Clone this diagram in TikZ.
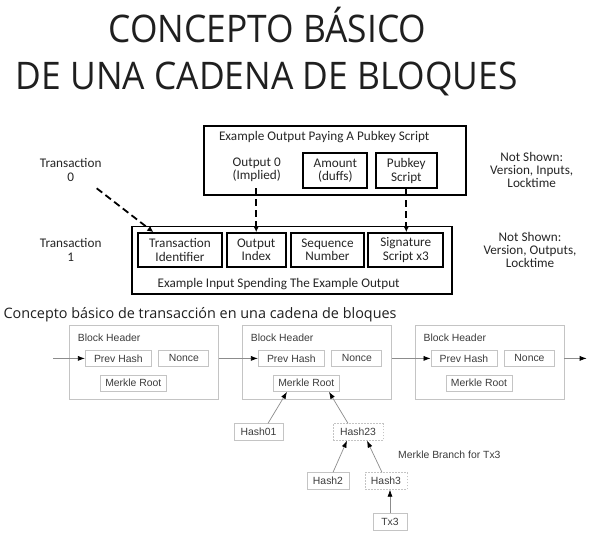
\documentclass[tikz,border=0pt]{standalone}
\usepackage{fontspec}
\setmainfont{Liberation Sans}
\newfontfamily\titlefont{Open Sans}
\newfontfamily\calfont{Carlito}
\usetikzlibrary{arrows.meta}
\definecolor{boxgray}{HTML}{C4C4C4}
\definecolor{txtgray}{HTML}{3C3C3C}
\begin{document}
\begin{tikzpicture}[x=1pt,y=-1pt,
  titletext/.style={inner sep=0, anchor=base, font=\titlefont\fontsize{38}{44}\selectfont, text=black!88},
  subtext/.style={inner sep=0, anchor=base west, font=\titlefont\fontsize{14.4}{16}\selectfont, text=black!88},
  topbox/.style={draw, line width=1.8pt, inner sep=0, align=center, font=\calfont\fontsize{13.2}{13.4}\selectfont, text=black!85},
  toptext/.style={inner sep=0, align=center, font=\calfont\fontsize{13.2}{13.4}\selectfont, text=black!85},
  toparrow/.style={line width=1.8pt, dash pattern=on 7pt off 4pt, -{Latex[length=6pt,width=6pt]}},
  blockbox/.style={draw=boxgray, line width=0.8pt, inner sep=0, minimum width=149, minimum height=74},
  smallbox/.style={draw=boxgray, line width=0.8pt, inner sep=0, minimum height=16.5, font=\fontsize{10.4}{12}\selectfont, text=txtgray},
  dotbox/.style={smallbox, dash pattern=on 1.5pt off 1.5pt},
  smalltext/.style={inner sep=0, font=\fontsize{10.4}{12}\selectfont, text=txtgray},
  chainarrow/.style={draw=black!45, line width=0.7pt, -{Latex[length=7pt,width=5pt,color=black]}}
]
\useasboundingbox (0,0) rectangle (600,549);
\fill[white] (0,0) rectangle (600,549);

% title
\node[titletext] (title1) at (267.5,42.7) {\scalebox{0.93}[1]{CONCEPTO BÁSICO}};
\node[titletext] (title2) at (266.7,89.3) {\scalebox{0.93}[1]{DE UNA CADENA DE BLOQUES}};

% top diagram: output
\node[topbox, minimum width=261.7, minimum height=69] (outbox) at (335.2,160.5) {};
\node[toptext] (outtitle) at (324.2,137) {Example Output Paying A Pubkey Script};
\node[toptext] (out0) at (256.7,170) {Output 0\\(Implied)};
\node[topbox, minimum width=64, minimum height=35] (amount) at (335.3,170.8) {Amount\\(duffs)};
\node[topbox, minimum width=60.7, minimum height=35] (pubkey) at (406.3,170.8) {Pubkey\\Script};
\node[toptext] (tx0) at (70.7,170) {Transaction\\0};
\node[toptext] (ns1) at (531.7,170) {Not Shown:\\Version, Inputs,\\Locktime};

% top diagram: input
\node[topbox, minimum width=320, minimum height=67.5] (inbox) at (291.7,260.3) {};
\node[topbox, minimum width=83.4, minimum height=34] (txid) at (180,250) {Transaction\\Identifier};
\node[topbox, minimum width=59, minimum height=34] (outidx) at (256.2,250) {Output\\Index};
\node[topbox, minimum width=73.6, minimum height=34] (seq) at (327.5,250) {Sequence\\Number};
\node[topbox, minimum width=75, minimum height=34] (sig) at (405.8,250) {Signature\\Script x3};
\node[toptext] (intitle) at (278.7,284) {Example Input Spending The Example Output};
\node[toptext] (tx1) at (70.7,250) {Transaction\\1};
\node[toptext] (ns2) at (530,250) {Not Shown:\\Version, Outputs,\\Locktime};

\coordinate (dstart) at (96.7,188.3);
\draw[toparrow] (dstart) -- ([xshift=-26.7]txid.north);
\draw[toparrow] (outidx.north |- 0,188.3) -- (outidx.north);
\draw[toparrow] (pubkey.south) -- (pubkey.south |- sig.north);

% subtitle
\node[subtext] (subtitle) at (3.3,318.3) {Concepto básico de transacción en una cadena de bloques};

% blocks
\foreach \i/\L in {1/69.3, 2/242.3, 3/415} {
  \node[blockbox] (b\i) at (\L+74.5,362.2) {};
  \node[smalltext, anchor=base west] (bh\i) at (\L+8.4,341.3) {Block Header};
  \node[smallbox, minimum width=66] (ph\i) at (\L+49,358.4) {Prev Hash};
  \node[smallbox, minimum width=50] (nc\i) at (\L+114.5,358.4) {Nonce};
  \node[smallbox, minimum width=66] (mr\i) at (\L+64,383.2) {Merkle Root};
}
\coordinate (cstart) at (53.3,358.4);
\coordinate (cend) at (586.7,358.4);
\draw[chainarrow] (cstart) -- (ph1.west);
\draw[chainarrow] (b1.east |- ph2.west) -- (ph2.west);
\draw[chainarrow] (b2.east |- ph3.west) -- (ph3.west);
\draw[chainarrow] (b3.east |- ph3.west) -- (cend);

% merkle tree
\node[smallbox, minimum width=49] (h01) at (258.5,432) {Hash01};
\node[dotbox, minimum width=50] (h23) at (358,432) {Hash23};
\node[smallbox, minimum width=42] (h2) at (328,481) {Hash2};
\node[dotbox, minimum width=42] (h3) at (386,481) {Hash3};
\node[smallbox, minimum width=34] (tx3) at (390,522) {Tx3};
\node[smalltext, anchor=west] (branch) at (398,455) {Merkle Branch for Tx3};

\draw[chainarrow] ([xshift=9.5]h01.north) -- ([xshift=-19.3]mr2.south);
\draw[chainarrow] ([xshift=-10]h23.north) -- ([xshift=22.7]mr2.south);
\draw[chainarrow] ([xshift=5]h2.north) -- ([xshift=-11]h23.south);
\draw[chainarrow] ([xshift=-4]h3.north) -- ([xshift=9]h23.south);
\draw[chainarrow] (tx3.north) -- (tx3.north |- h3.south);
\end{tikzpicture}
\end{document}
